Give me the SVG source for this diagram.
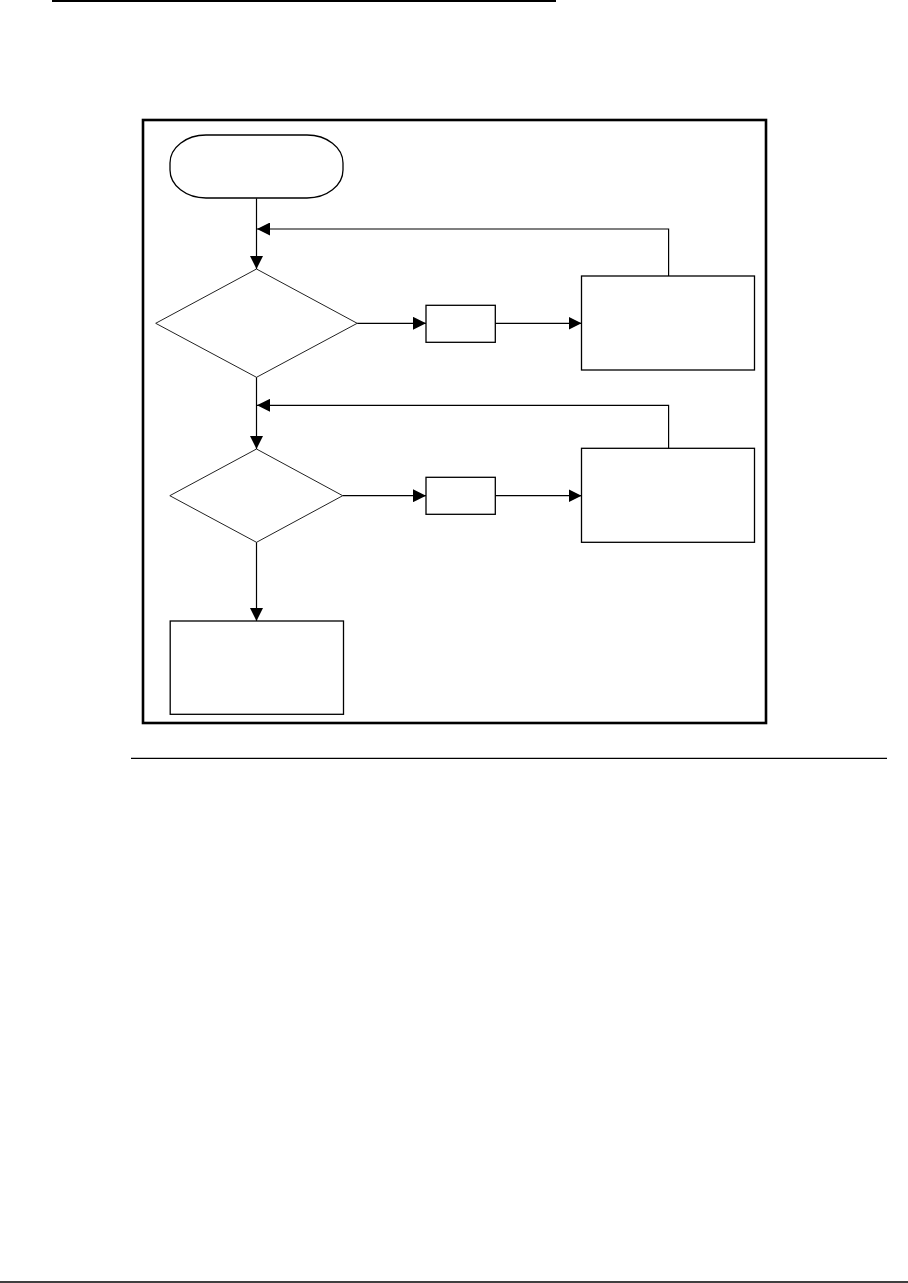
<svg xmlns="http://www.w3.org/2000/svg" width="908" height="1283" viewBox="0 0 908 1283">
<style>
.node{fill:#fff;stroke:#000;stroke-width:1.3}
.dia{fill:#fff;stroke:#222;stroke-width:1}
.conn{fill:none;stroke:#000;stroke-width:1.2}
.rule{stroke:#000;fill:none}
</style>
<defs>
<marker id="arr" markerUnits="userSpaceOnUse" markerWidth="13" markerHeight="13" viewBox="0 0 13 13" refX="13" refY="6.5" orient="auto">
<path d="M0,0 L13,6.5 L0,13 Z" fill="#000"/>
</marker>
</defs>
<line class="rule" x1="52" y1="1" x2="556" y2="1" stroke-width="2"/>
<rect id="frame" x="143" y="120" width="623" height="603" fill="none" stroke="#000" stroke-width="2.6"/>
<line class="rule" x1="131" y1="758.3" x2="887" y2="758.3" stroke-width="1.3"/>
<line class="rule" x1="0" y1="1282" x2="908" y2="1282" stroke-width="1.6"/>
<g id="start"><rect class="node" x="170" y="135" width="173" height="63" rx="36" ry="28" stroke-width="1"/></g>
<g id="decision1"><polygon class="dia" points="256.5,269 357.2,323.3 256.5,377.3 155.7,323.3"/></g>
<g id="step1"><rect class="node" x="426" y="305.3" width="69.3" height="37"/></g>
<g id="process1"><rect class="node" x="581.5" y="276" width="173" height="94"/></g>
<g id="decision2"><polygon class="dia" points="256.5,449 342.7,495.7 256.5,542.3 169.8,495.7"/></g>
<g id="step2"><rect class="node" x="426" y="477.3" width="69.3" height="37"/></g>
<g id="process2"><rect class="node" x="581.5" y="448.3" width="173" height="94"/></g>
<g id="end"><rect class="node" x="170.2" y="621" width="173.3" height="93.3"/></g>
<g id="connectors">
<path class="conn" d="M256.5,198.3 V269" marker-end="url(#arr)"/>
<path class="conn" d="M668.6,276 V229 H257" marker-end="url(#arr)"/>
<path class="conn" d="M357.2,323.3 H426" marker-end="url(#arr)"/>
<path class="conn" d="M495.3,323.3 H581.5" marker-end="url(#arr)"/>
<path class="conn" d="M256.5,377.3 V449" marker-end="url(#arr)"/>
<path class="conn" d="M668.6,448.3 V405.3 H257" marker-end="url(#arr)"/>
<path class="conn" d="M342.7,495.7 H426" marker-end="url(#arr)"/>
<path class="conn" d="M495.3,495.7 H581.5" marker-end="url(#arr)"/>
<path class="conn" d="M256.5,542.3 V621" marker-end="url(#arr)"/>
</g>
</svg>
